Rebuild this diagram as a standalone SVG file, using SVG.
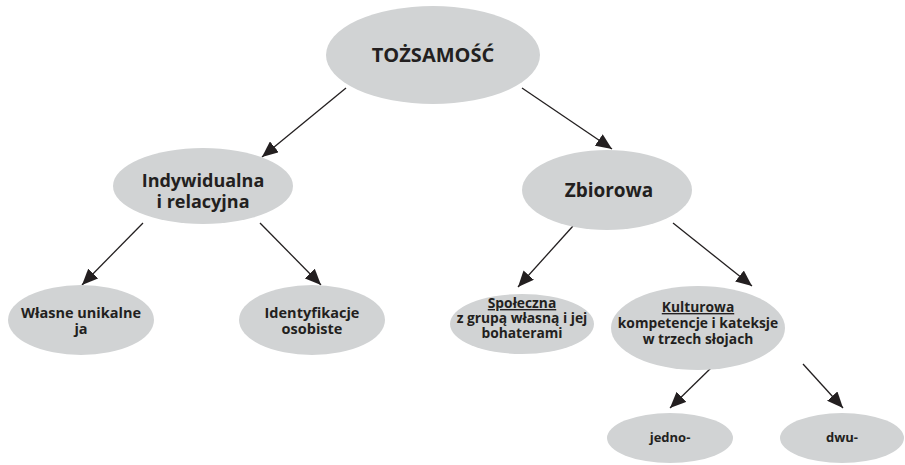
<svg xmlns="http://www.w3.org/2000/svg" width="905" height="465" viewBox="0 0 905 465">
<defs>
<marker id="arr" markerUnits="userSpaceOnUse" markerWidth="18" markerHeight="14" refX="16" refY="7" orient="auto">
<path d="M0,0 L16,7 L0,14 Z" fill="#231f20"/>
</marker>
<style>
.n{fill:#d1d3d4;}
.t{font-family:"Open Sans","Noto Sans","DejaVu Sans",sans-serif;font-weight:bold;fill:#231f20;text-anchor:middle;}
.c line{stroke:#231f20;stroke-width:1.3;marker-end:url(#arr);}
.u{text-decoration:underline;}
</style>
</defs>
<rect width="905" height="465" fill="#ffffff"/>
<g id="connectors" class="c">
<line x1="346" y1="88" x2="262" y2="157"/>
<line x1="522" y1="88" x2="612" y2="149"/>
<line x1="143" y1="223" x2="82" y2="285"/>
<line x1="260" y1="223" x2="321" y2="285"/>
<line x1="573" y1="226" x2="518" y2="287"/>
<line x1="673" y1="223" x2="752" y2="286"/>
<line x1="712" y1="367" x2="670" y2="408"/>
<line x1="803" y1="364" x2="843" y2="408"/>
</g>
<g id="tozsamosc">
<ellipse class="n" cx="433" cy="55" rx="107" ry="49"/>
<text class="t" x="433" y="62" font-size="20">TOŻSAMOŚĆ</text>
</g>
<g id="indywidualna">
<ellipse class="n" cx="203" cy="186" rx="90" ry="38"/>
<text class="t" x="203" y="187" font-size="18">Indywidualna</text>
<text class="t" x="203" y="208" font-size="18">i relacyjna</text>
</g>
<g id="zbiorowa">
<ellipse class="n" cx="607" cy="190" rx="85" ry="40"/>
<text class="t" x="609" y="197" font-size="19">Zbiorowa</text>
</g>
<g id="wlasne">
<ellipse class="n" cx="81" cy="320" rx="73" ry="35"/>
<text class="t" x="81" y="318" font-size="14.5">Własne unikalne</text>
<text class="t" x="81" y="334" font-size="14.5">ja</text>
</g>
<g id="identyfikacje">
<ellipse class="n" cx="312" cy="320" rx="73" ry="35"/>
<text class="t" x="312" y="318" font-size="14.5">Identyfikacje</text>
<text class="t" x="312" y="334" font-size="14.5">osobiste</text>
</g>
<g id="spoleczna">
<ellipse class="n" cx="522" cy="324" rx="72" ry="30"/>
<text class="t u" x="522" y="308" font-size="13.8">Społeczna</text>
<text class="t" x="522" y="323" font-size="13.8">z grupą własną i jej</text>
<text class="t" x="522" y="338" font-size="13.8">bohaterami</text>
</g>
<g id="kulturowa">
<ellipse class="n" cx="698" cy="328" rx="87" ry="42"/>
<text class="t u" x="698" y="312" font-size="13.8">Kulturowa</text>
<text class="t" x="698" y="328" font-size="13.8">kompetencje i kateksje</text>
<text class="t" x="698" y="344" font-size="13.8">w trzech słojach</text>
</g>
<g id="jedno">
<ellipse class="n" cx="670" cy="438" rx="63" ry="25"/>
<text class="t" x="670" y="442" font-size="13">jedno-</text>
</g>
<g id="dwu">
<ellipse class="n" cx="842" cy="438" rx="62" ry="25"/>
<text class="t" x="842" y="442" font-size="13">dwu-</text>
</g>
</svg>
